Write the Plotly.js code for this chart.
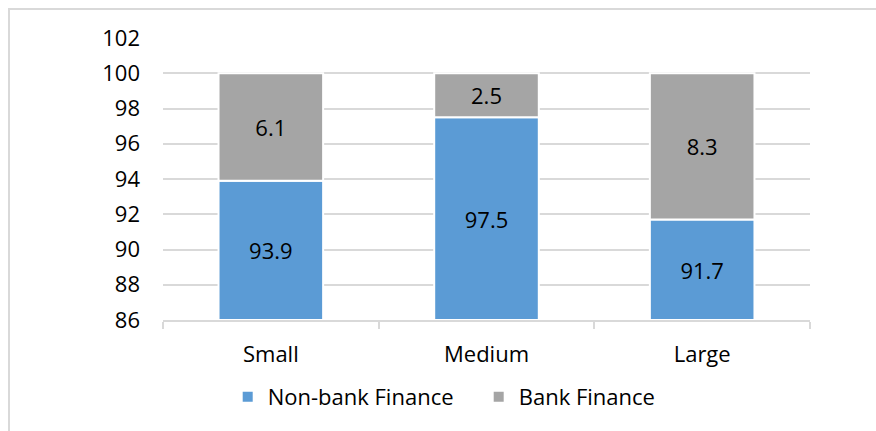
<!DOCTYPE html>
<html>
<head>
<meta charset="utf-8">
<script src="https://cdn.plot.ly/plotly-3.0.1.min.js"></script>
<style>
  html, body { margin: 0; padding: 0; background: #fff; }
  #wrap { position: relative; width: 876px; height: 431px; overflow: hidden; }
  #frame { position: absolute; left: 8px; top: 8px; width: 900px; height: 460px;
           border-left: 2px solid #d9d9d9; border-top: 2px solid #d9d9d9; box-sizing: border-box; pointer-events: none; }
  #chart { position: absolute; left: 0; top: 0; width: 876px; height: 431px; }
</style>
</head>
<body>
<div id="wrap">
  <div id="chart"></div>
  <div id="frame"></div>
</div>
<script>
const categories = ["Small", "Medium", "Large"];
const nonBank = [93.9, 97.5, 91.7];
const bank = [6.1, 2.5, 8.3];
const axisMin = 86;
const yTicks = [86, 88, 90, 92, 94, 96, 98, 100, 102];

const font = "'Open Sans', sans-serif";
const fs = 22;

const traces = [
  {
    type: "bar", name: "Non-bank Finance", x: categories,
    base: nonBank.map(() => axisMin),
    y: nonBank.map(v => v - axisMin),
    text: nonBank.map(v => v.toFixed(1)),
    textposition: "inside", insidetextanchor: "middle", textangle: 0,
    textfont: { color: "#000", size: fs, family: font },
    marker: { color: "#5b9bd5", line: { color: "#fff", width: 2 } },
    hoverinfo: "skip"
  },
  {
    type: "bar", name: "Bank Finance", x: categories,
    base: nonBank,
    y: bank,
    text: bank.map(v => v.toFixed(1)),
    textposition: "inside", insidetextanchor: "middle", textangle: 0,
    textfont: { color: "#000", size: fs, family: font },
    marker: { color: "#a5a5a5", line: { color: "#fff", width: 2 } },
    hoverinfo: "skip"
  }
];

const layout = {
  width: 876, height: 431,
  margin: { l: 163, r: 66, t: 38, b: 111, autoexpand: false },
  paper_bgcolor: "rgba(0,0,0,0)", plot_bgcolor: "#fff",
  barmode: "overlay", bargap: 0.515,
  font: { family: font, size: fs, color: "#000" },
  showlegend: true,
  legend: { orientation: "h", x: 0.1, xanchor: "left", y: -0.273, yanchor: "middle",
            font: { size: fs, color: "#000" }, itemwidth: 30, traceorder: "normal",
            entrywidth: 206, entrywidthmode: "pixels" },
  xaxis: {
    type: "category", tickson: "boundaries", ticks: "outside", ticklen: 7,
    tickcolor: "#d9d9d9", tickwidth: 2, showline: true, linecolor: "#d9d9d9", linewidth: 2,
    showgrid: false, tickfont: { size: fs }, ticklabelstandoff: 14, automargin: false, fixedrange: true
  },
  yaxis: {
    range: [86, 102], tickvals: yTicks, ticktext: yTicks.map(String),
    showgrid: true, gridcolor: "#d9d9d9", gridwidth: 2, zeroline: false,
    showline: false, ticks: "", ticklabelstandoff: 22, tickfont: { size: fs }, automargin: false, fixedrange: true
  }
};

Plotly.newPlot("chart", traces, layout, { staticPlot: true, displayModeBar: false });
</script>
</body>
</html>
